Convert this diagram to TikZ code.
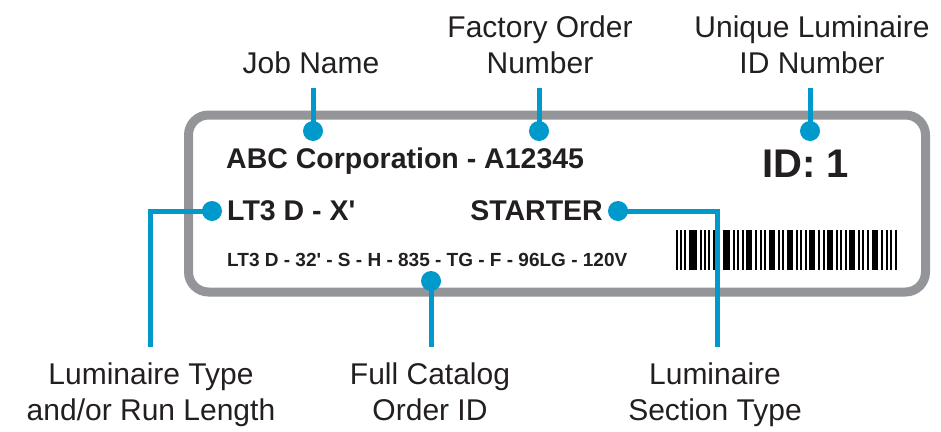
\documentclass[tikz,border=0pt]{standalone}
\usepackage{fontspec}
\setmainfont{Liberation Sans}
\definecolor{ink}{HTML}{231F20}
\definecolor{callout}{HTML}{0099CC}
\definecolor{frame}{HTML}{939598}
\tikzset{
  annot/.style={text=ink, font=\fontsize{30}{35.5}\selectfont, align=center, inner sep=0pt, anchor=base},
  labtext/.style={text=ink, font=\bfseries\fontsize{28.5}{34}\selectfont, inner sep=0pt},
  smalltext/.style={text=ink, font=\bfseries\fontsize{19}{23}\selectfont, inner sep=0pt},
  dot/.style={circle, fill=callout, minimum size=20pt, inner sep=0pt},
  lead/.style={draw=callout, line width=5pt},
}
\begin{document}
\begin{tikzpicture}[x=1pt, y=-1pt]
\useasboundingbox (0,0) rectangle (941,431);
% label frame
\draw[frame, line width=9pt, rounded corners=20pt] (188.5,115) rectangle (925.5,292);
% label texts
\node[labtext, anchor=base west] (job) at (226,168) {ABC Corporation - A12345};
\node[labtext, anchor=base west] (lt) at (227,220) {LT3 D - X\textquotesingle};
\node[labtext, anchor=base east] (starter) at (603,220) {STARTER};
\node[smalltext, anchor=base west] (cat) at (227,266) {LT3 D - 32\textquotesingle{} - S - H - 835 - TG - F - 96LG - 120V};
\node[text=ink, font=\bfseries\fontsize{40}{46}\selectfont, inner sep=0pt, anchor=base west] (id) at (762,177) {ID: 1};
% barcode
\foreach \a/\b in {676/678,680/682,684/686,689/697,700/702,704/706,708/710,713/719,723/730,733/735,737/739,742/744,746/752,755/757,760/762,764/766,769/775,778/780,782/784,787/793,796/798,800/802,805/807,809/815,818/820,823/825,827/833,836/838,840/842,845/847,849/855,858/860,862/864,867/869,872/878,881/883,886/888,890/892,895/897}
  \fill[black] (\a,230) rectangle (\b,270);
% annotations (base = last line's baseline)
\node[annot] (aJob) at (311,73) {Job Name};
\node[annot] (aFac) at (540,73) {Factory Order\\Number};
\node[annot] (aId) at (812,73) {Unique Luminaire\\ID Number};
\node[annot] (aType) at (151,420) {Luminaire Type\\and/or Run Length};
\node[annot] (aCat) at (430,420) {Full Catalog\\Order ID};
\node[annot] (aSec) at (715,420) {Luminaire\\Section Type};
% connector endpoints
\coordinate (tJob) at (313,88);
\coordinate (tFac) at (539,88);
\coordinate (tId) at (810,88);
\coordinate (bType) at (150,347);
\coordinate (bCat) at (431,347);
\coordinate (bSec) at (717,347);
% dots
\node[dot] (dJob) at (313,131) {};
\node[dot] (dFac) at (539,131) {};
\node[dot] (dId) at (810,131) {};
\node[dot] (dLt) at (212,211) {};
\node[dot] (dSt) at (618,211) {};
\node[dot] (dCat) at (431,281) {};
% connectors
\draw[lead] (tJob) -- (dJob.center);
\draw[lead] (tFac) -- (dFac.center);
\draw[lead] (tId) -- (dId.center);
\draw[lead] (dLt.center) -| (bType);
\draw[lead] (dSt.center) -| (bSec);
\draw[lead] (dCat.center) -- (bCat);
\end{tikzpicture}
\end{document}
